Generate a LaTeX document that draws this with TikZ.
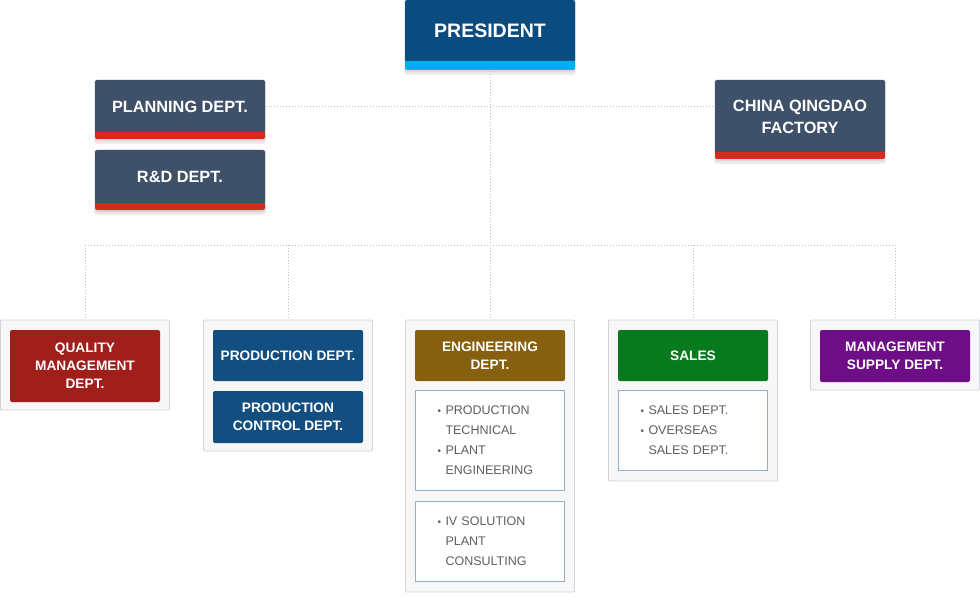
\documentclass[tikz,border=0pt]{standalone}
\usepackage{fontspec}
\setmainfont{Liberation Sans}
\usetikzlibrary{positioning,backgrounds}
\definecolor{navy}{HTML}{0B4C80}
\definecolor{sky}{HTML}{00AEEF}
\definecolor{slate}{HTML}{3E5168}
\definecolor{stripe}{HTML}{D52B1E}
\definecolor{panelfill}{HTML}{F7F7F7}
\definecolor{rim}{HTML}{CDD5DF}
\definecolor{listrim}{HTML}{8FB0D0}
\definecolor{listink}{HTML}{5E5E5E}
\definecolor{dotline}{HTML}{BDBDBD}
\definecolor{qred}{HTML}{A01F1A}
\definecolor{pblue}{HTML}{134E80}
\definecolor{ebrown}{HTML}{86600E}
\definecolor{sgreen}{HTML}{087A1E}
\definecolor{mpurple}{HTML}{6E0E86}
\newcommand{\lbul}{\makebox[8pt][l]{\fontsize{10}{10}\selectfont\textbullet}}
\newcommand{\lgap}{\hspace*{8pt}}

\begin{document}
\begin{tikzpicture}[x=1pt,y=-1pt,
  topbox/.style={fill=slate,rounded corners=2pt,text=white,align=center,inner sep=0pt,outer sep=0pt,
    minimum width=170pt,font=\bfseries\fontsize{16.3}{22}\selectfont},
  panel/.style={fill=panelfill,draw=rim,line width=0.8pt,rounded corners=1pt,minimum width=169pt,inner sep=0pt,outer sep=0pt},
  head/.style={rounded corners=2pt,text=white,align=center,inner sep=0pt,outer sep=0pt,
    minimum width=150pt,font=\bfseries\fontsize{13.7}{18}\selectfont},
  listbox/.style={fill=white,draw=listrim,line width=0.8pt,align=left,inner xsep=22pt,inner ysep=0pt,outer sep=0pt,
    text width=105pt,text=listink,font=\fontsize{12.5}{20}\selectfont},
  link/.style={draw=dotline,line width=0.8pt,dash pattern=on 1pt off 2pt}]
  \useasboundingbox (0,0) rectangle (980,607);
  % top of the chart
  \node[topbox,fill=navy,minimum height=62pt,font=\bfseries\fontsize{19.5}{24}\selectfont] (pres) at (490,31) {PRESIDENT};
  \node[topbox,minimum height=53pt] (plan) at (180,106.5) {PLANNING DEPT.};
  \node[topbox,minimum height=54pt,below=17pt of plan] (rnd) {R\&D DEPT.};
  \node[topbox,minimum height=73pt] (china) at (800,116.5) {CHINA QINGDAO\\FACTORY};
  \foreach \n/\c/\h in {pres/sky/8,plan/stripe/6,rnd/stripe/6,china/stripe/6} {
    \fill[\c,rounded corners=2pt] ([yshift=-\h pt]\n.south west) rectangle ([yshift=1pt]\n.south east);
    \fill[\c] ([yshift=-3pt]\n.south west) rectangle ([yshift=1pt]\n.south east);
    \begin{scope}[on background layer]
      \fill[black,opacity=.07,rounded corners=3pt] ([xshift=-1pt,yshift=-\h pt-5pt]\n.south west) rectangle ([xshift=1pt]\n.north east);
      \fill[black,opacity=.08,rounded corners=2pt] ([yshift=-\h pt-2.5pt]\n.south west) rectangle (\n.north east);
    \end{scope}
  }
  \coordinate (split) at (490,245);
  % departments
  \node[panel,minimum height=90pt,anchor=north] (qual) at (85,320) {};
  \node[head,fill=qred,minimum height=72pt,below=10pt of qual.north] (qhead) {QUALITY\\MANAGEMENT\\DEPT.};
  \node[panel,minimum height=131pt,anchor=north] (prod) at (288,320) {};
  \node[head,fill=pblue,minimum height=51pt,below=10pt of prod.north] (phead) {PRODUCTION DEPT.};
  \node[head,fill=pblue,minimum height=52pt,below=10pt of phead] (pctrl) {PRODUCTION\\CONTROL DEPT.};
  \node[panel,minimum height=272pt,anchor=north] (eng) at (490,320) {};
  \node[head,fill=ebrown,minimum height=51pt,below=10pt of eng.north] (ehead) {ENGINEERING\\DEPT.};
  \node[listbox,minimum height=100pt,below=9pt of ehead] (elist) {\lbul PRODUCTION\\\lgap TECHNICAL\\\lbul PLANT\\\lgap ENGINEERING};
  \node[listbox,minimum height=80pt,below=11pt of elist] (esol) {\lbul IV SOLUTION\\\lgap PLANT\\\lgap CONSULTING};
  \node[panel,minimum height=161pt,anchor=north] (sales) at (693,320) {};
  \node[head,fill=sgreen,minimum height=51pt,below=10pt of sales.north] (shead) {SALES};
  \node[listbox,minimum height=80pt,below=9pt of shead] (slist) {\lbul SALES DEPT.\\\lbul OVERSEAS\\\lgap SALES DEPT.};
  \node[panel,minimum height=70pt,anchor=north] (mgmt) at (895,320) {};
  \node[head,fill=mpurple,minimum height=52pt,below=10pt of mgmt.north] (mhead) {MANAGEMENT\\SUPPLY DEPT.};
  % dotted links
  \begin{scope}[on background layer]
    \draw[link] (pres) -- (split);
    \draw[link] (plan.east) -- (plan.east -| china.west);
    \draw[link] (split -| qual) -- (split -| mgmt);
    \foreach \n in {qual,prod,eng,sales,mgmt} \draw[link] (split -| \n) -- (\n.north);
  \end{scope}
\end{tikzpicture}
\end{document}
